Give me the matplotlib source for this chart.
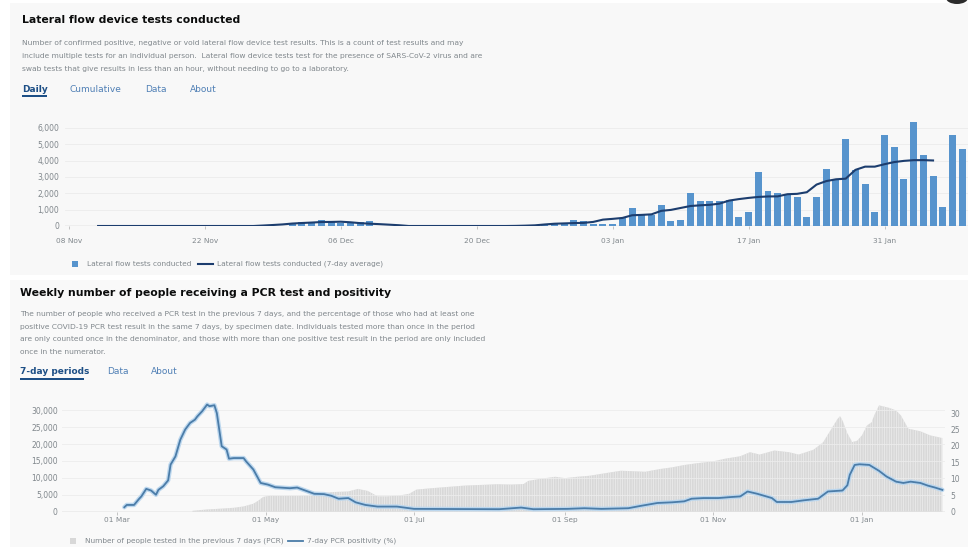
import matplotlib
matplotlib.use('Agg')
import matplotlib.pyplot as plt
import matplotlib.dates as mdates
from matplotlib.patches import Rectangle, Ellipse
from matplotlib.lines import Line2D
import pandas as pd

W, H = 968, 547

# ---- lateral flow tests, daily counts 08 Nov 2020 .. 08 Feb 2021 ----
lft_start = '2020-11-08'
lft_daily = ([0] * 23 +
             [200, 230, 250, 370, 230, 200, 220, 240, 330] +
             [0] * 17 +
             [50, 100, 140, 370, 310, 140, 140, 140, 510, 1120, 700, 700,
              1290, 310, 370, 2000, 1530, 1530, 1530, 1590, 530, 880, 3310,
              2160, 2040, 1940, 1800, 570, 1800, 3470, 2860, 5310, 3430, 2570,
              840, 5570, 4860, 2860, 6350, 4350, 3080, 1140, 5590, 4710])
# 7-day average line, 11 Nov .. 05 Feb
lft_avg_start = '2020-11-11'
lft_avg = ([0] * 17 +
           [29, 61, 97, 150, 183, 211, 243, 249, 263, 227, 174, 141, 113, 81, 47] +
           [0] * 11 +
           [7, 21, 41, 94, 139, 159, 179, 191, 250, 390, 437, 493, 657, 681, 714,
            927, 986, 1104, 1223, 1266, 1297, 1370, 1557, 1647, 1720, 1779, 1809,
            1814, 1946, 1969, 2069, 2536, 2749, 2859, 2897, 3436, 3634, 3634,
            3783, 3914, 3987, 4030, 4033, 4012])

# ---- PCR: people tested in previous 7 days ----
pcr_dates = ['2020-04-01', '2020-04-07', '2020-04-14', '2020-04-18', '2020-04-22',
             '2020-04-26', '2020-04-28', '2020-04-30', '2020-05-03', '2020-05-08',
             '2020-05-15', '2020-05-21', '2020-05-28', '2020-06-04', '2020-06-08',
             '2020-06-12', '2020-06-16', '2020-06-20', '2020-06-25', '2020-06-29',
             '2020-07-02', '2020-07-08', '2020-07-15', '2020-07-22', '2020-07-29',
             '2020-08-04', '2020-08-10', '2020-08-15', '2020-08-17', '2020-08-22',
             '2020-08-28', '2020-09-01', '2020-09-06', '2020-09-11', '2020-09-17',
             '2020-09-24', '2020-10-04', '2020-10-10', '2020-10-15', '2020-10-20',
             '2020-10-25', '2020-11-01', '2020-11-06', '2020-11-12', '2020-11-16',
             '2020-11-20', '2020-11-26', '2020-12-02', '2020-12-06', '2020-12-12',
             '2020-12-16', '2020-12-19', '2020-12-22', '2020-12-23', '2020-12-24',
             '2020-12-26', '2020-12-28', '2020-12-30', '2021-01-01', '2021-01-03',
             '2021-01-05', '2021-01-06', '2021-01-08', '2021-01-12', '2021-01-15',
             '2021-01-17', '2021-01-20', '2021-01-25', '2021-01-29', '2021-02-03']
pcr_tested = [200, 600, 900, 1100, 1500, 2300, 3200, 4300, 4750, 4650,
              4700, 5050, 5750, 5950, 6700, 6100, 4500, 4500, 4750, 5250,
              6500, 6900, 7300, 7700, 7900, 8100, 8000, 8150, 9100, 9700,
              10300, 9900, 10300, 10600, 11300, 12100, 11800, 12600, 13100, 13800,
              14300, 14900, 15700, 16400, 17600, 16900, 18100, 17600, 16900, 18300,
              20500, 24000, 27500, 28300, 27000, 23200, 20600, 21000, 22600, 25500,
              26500, 28500, 31500, 30800, 30000, 28500, 24600, 23800, 22600, 21800]

# ---- PCR positivity (%) ----
pos_dates = ['2020-03-04', '2020-03-05', '2020-03-08', '2020-03-10', '2020-03-11',
             '2020-03-13', '2020-03-15', '2020-03-17', '2020-03-18', '2020-03-20',
             '2020-03-22', '2020-03-23', '2020-03-25', '2020-03-27', '2020-03-29',
             '2020-03-31', '2020-04-02', '2020-04-03', '2020-04-05', '2020-04-07',
             '2020-04-08', '2020-04-10', '2020-04-11', '2020-04-13', '2020-04-15',
             '2020-04-16', '2020-04-18', '2020-04-22', '2020-04-23', '2020-04-26',
             '2020-04-29', '2020-05-02', '2020-05-05', '2020-05-11', '2020-05-14',
             '2020-05-21', '2020-05-25', '2020-05-28', '2020-05-31', '2020-06-04',
             '2020-06-07', '2020-06-11', '2020-06-16', '2020-06-24', '2020-07-01',
             '2020-08-05', '2020-08-14', '2020-08-19', '2020-09-02', '2020-09-09',
             '2020-09-16', '2020-09-27', '2020-10-02', '2020-10-09', '2020-10-15',
             '2020-10-20', '2020-10-23', '2020-10-28', '2020-11-03', '2020-11-08',
             '2020-11-12', '2020-11-15', '2020-11-19', '2020-11-25', '2020-11-27',
             '2020-12-03', '2020-12-08', '2020-12-14', '2020-12-18', '2020-12-24',
             '2020-12-26', '2020-12-27', '2020-12-29', '2020-12-31', '2021-01-04',
             '2021-01-08', '2021-01-11', '2021-01-15', '2021-01-18', '2021-01-21',
             '2021-01-25', '2021-01-28', '2021-01-31', '2021-02-03']
pos_rate = [1.3, 2.0, 2.0, 3.8, 4.6, 6.9, 6.4, 5.1, 6.6, 7.7,
            9.5, 14.3, 16.8, 21.9, 25.0, 27.0, 28.0, 29.0, 30.6, 32.6,
            32.1, 32.4, 30.0, 19.9, 18.9, 16.1, 16.3, 16.3, 15.3, 12.8,
            8.7, 8.2, 7.4, 7.1, 7.3, 5.4, 5.3, 4.8, 3.9, 4.1,
            2.8, 2.0, 1.5, 1.5, 0.8, 0.7, 1.2, 0.7, 0.8, 1.0,
            0.8, 1.0, 1.7, 2.6, 2.8, 3.1, 3.9, 4.1, 4.1, 4.4,
            4.6, 6.1, 5.4, 4.1, 2.9, 2.9, 3.4, 3.9, 6.1, 6.4,
            8.0, 11.2, 14.2, 14.4, 14.2, 12.4, 10.7, 9.1, 8.7, 9.1,
            8.7, 7.9, 7.3, 6.6]

lft_days = pd.date_range(lft_start, periods=len(lft_daily), freq='D')
avg_days = pd.date_range(lft_avg_start, periods=len(lft_avg), freq='D')
pcr_x = pd.to_datetime(pcr_dates)
pos_x = pd.to_datetime(pos_dates)

plt.rcParams['font.family'] = 'DejaVu Sans'
plt.rcParams['hatch.linewidth'] = 0.5

fig = plt.figure(figsize=(W / 100, H / 100), dpi=100)
fig.patch.set_facecolor('white')


def fx(x):
    return x / W


def fy(y):
    return 1 - y / H


def box(l, t, r, b):
    return [fx(l), fy(b), (r - l) / W, (b - t) / H]


# panel backgrounds
fig.patches.append(Rectangle((fx(10), fy(275)), fx(958), 272 / H, transform=fig.transFigure,
                             facecolor='#f8f8f8', edgecolor='none', zorder=-10))
fig.patches.append(Rectangle((fx(10), 0), fx(958), fy(280), transform=fig.transFigure,
                             facecolor='#f9f9f9', edgecolor='none', zorder=-10))
fig.patches.append(Ellipse((fx(957), fy(-2)), 22 / W, 12 / H, transform=fig.transFigure,
                           facecolor='#2b2b2b', edgecolor='none'))

dark = '#0b0c0c'
grey = '#80878c'
tab_on = '#1d4f86'
tab_off = '#4f7fb5'

# ---------------- top panel ----------------
fig.text(fx(22), fy(20), 'Lateral flow device tests conducted', fontsize=7.8,
         fontweight='bold', color=dark, va='center')
desc1 = ['Number of confirmed positive, negative or void lateral flow device test results. This is a count of test results and may',
         'include multiple tests for an individual person.  Lateral flow device tests test for the presence of SARS-CoV-2 virus and are',
         'swab tests that give results in less than an hour, without needing to go to a laboratory.']
for i, line in enumerate(desc1):
    fig.text(fx(22), fy(43 + 13 * i), line, fontsize=5.4, color=grey, va='center')
fig.text(fx(22), fy(89), 'Daily', fontsize=6.5, fontweight='bold', color=tab_on, va='center')
for x, t in [(69, 'Cumulative'), (145, 'Data'), (190, 'About')]:
    fig.text(fx(x), fy(89), t, fontsize=6.5, color=tab_off, va='center')
fig.patches.append(Rectangle((fx(22), fy(97)), 25 / W, 2 / H, transform=fig.transFigure,
                             facecolor=tab_on, edgecolor='none'))

ax1 = fig.add_axes(box(65, 118, 968, 226))
ax1.set_facecolor('none')
ax1.bar(lft_days, lft_daily, width=0.72, color='#5794cd', zorder=2)
ax1.plot(avg_days, lft_avg, color='#1c3d6e', linewidth=1.5, zorder=3)
ax1.axhline(0, color='#c8c8c8', linewidth=1, zorder=1)
ax1.set_ylim(0, 6612)
ax1.set_xlim(pd.Timestamp(lft_start) - pd.Timedelta(days=0.41),
             pd.Timestamp(lft_start) + pd.Timedelta(days=92.6))
ax1.set_yticks(range(0, 7000, 1000))
ax1.set_yticklabels([f'{v:,}' for v in range(0, 7000, 1000)])
ax1.set_xticks(pd.date_range(lft_start, periods=7, freq='14D'))
ax1.xaxis.set_major_formatter(mdates.DateFormatter('%d %b'))
ax1.grid(axis='y', color='#ececec', linewidth=0.6, zorder=0)
for s in ax1.spines.values():
    s.set_visible(False)
ax1.tick_params(axis='y', length=0, pad=4, labelsize=5.5, labelcolor=grey)
ax1.tick_params(axis='x', length=2, width=0.6, color='#bbbbbb', pad=7, labelsize=5.3,
                labelcolor=grey)

# legend top
fig.patches.append(Rectangle((fx(72), fy(267)), 6 / W, 6 / H, transform=fig.transFigure,
                             facecolor='#5794cd', edgecolor='none'))
fig.text(fx(87), fy(264), 'Lateral flow tests conducted', fontsize=5.35, color=grey, va='center')
fig.lines.append(Line2D([fx(198), fx(213)], [fy(264), fy(264)], transform=fig.transFigure,
                        color='#1c3d6e', linewidth=1.5))
fig.text(fx(217), fy(264), 'Lateral flow tests conducted (7-day average)', fontsize=5.35,
         color=grey, va='center')

# ---------------- bottom panel ----------------
fig.text(fx(20), fy(293), 'Weekly number of people receiving a PCR test and positivity',
         fontsize=7.8, fontweight='bold', color=dark, va='center')
desc2 = ['The number of people who received a PCR test in the previous 7 days, and the percentage of those who had at least one',
         'positive COVID-19 PCR test result in the same 7 days, by specimen date. Individuals tested more than once in the period',
         'are only counted once in the denominator, and those with more than one positive test result in the period are only included',
         'once in the numerator.']
for i, line in enumerate(desc2):
    fig.text(fx(20), fy(314 + 12.7 * i), line, fontsize=5.4, color=grey, va='center')
fig.text(fx(20), fy(372), '7-day periods', fontsize=6.5, fontweight='bold', color=tab_on,
         va='center')
for x, t in [(107, 'Data'), (151, 'About')]:
    fig.text(fx(x), fy(372), t, fontsize=6.5, color=tab_off, va='center')
fig.patches.append(Rectangle((fx(20), fy(380)), 64 / W, 2 / H, transform=fig.transFigure,
                             facecolor=tab_on, edgecolor='none'))

ax2 = fig.add_axes(box(62, 400, 945, 511.5))
ax2.set_facecolor('none')
ax2.fill_between(pcr_x, pcr_tested, facecolor='#d8d8d8', edgecolor='#eeeeee',
                 hatch='|||||||', linewidth=0, zorder=1)
ax2.axhline(0, color='#bdbdbd', linewidth=1, zorder=2)
ax2.set_ylim(0, 33100)
ax2.set_xlim(pd.Timestamp('2020-03-01') - pd.Timedelta(days=22.6),
             pd.Timestamp('2021-01-01') + pd.Timedelta(days=34.1))
ax2.set_yticks(range(0, 35000, 5000))
ax2.set_yticklabels([f'{v:,}' for v in range(0, 35000, 5000)])
ax2.set_xticks(pd.to_datetime(['2020-03-01', '2020-05-01', '2020-07-01', '2020-09-01',
                               '2020-11-01', '2021-01-01']))
ax2.xaxis.set_major_formatter(mdates.DateFormatter('%d %b'))
ax2.grid(axis='y', color='#ececec', linewidth=0.6, zorder=0)
for s in ax2.spines.values():
    s.set_visible(False)
ax2.tick_params(axis='y', length=0, pad=3, labelsize=5.5, labelcolor=grey)
ax2.tick_params(axis='x', length=2, width=0.6, color='#bbbbbb', pad=2, labelsize=5.3,
                labelcolor=grey)

ax3 = ax2.twinx()
ax3.set_ylim(0, 34.0)
ax3.plot(pos_x, pos_rate, color='#bcd7ee', linewidth=3.2, solid_capstyle='round', zorder=3)
ax3.plot(pos_x, pos_rate, color='#4b7ca8', linewidth=1.3, zorder=4)
ax3.set_yticks(range(0, 35, 5))
for s in ax3.spines.values():
    s.set_visible(False)
ax3.tick_params(axis='y', length=0, pad=4, labelsize=5.5, labelcolor=grey)

# legend bottom
fig.patches.append(Rectangle((fx(70), fy(544)), 6 / W, 6 / H, transform=fig.transFigure,
                             facecolor='#d8d8d8', edgecolor='none'))
fig.text(fx(85), fy(541), 'Number of people tested in the previous 7 days (PCR)', fontsize=5.3,
         color=grey, va='center')
fig.lines.append(Line2D([fx(288), fx(303)], [fy(541), fy(541)], transform=fig.transFigure,
                        color='#4b7ca8', linewidth=1.3))
fig.text(fx(307), fy(541), '7-day PCR positivity (%)', fontsize=5.3, color=grey, va='center')

fig.savefig('out.png', dpi=100)
